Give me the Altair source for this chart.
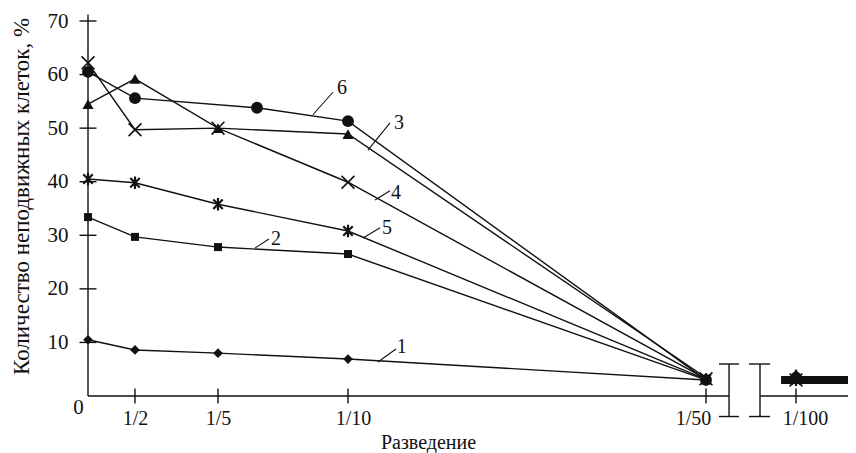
import altair as alt
import pandas as pd

# ---------------- data ----------------
dilution = [1, 2, 5, 10, 50]          # 1 = undiluted (origin), then 1/2, 1/5, 1/10, 1/50
dilution_6 = [1, 2, 6.5, 10, 50]      # curve 6 has its third point between 1/5 and 1/10
s1 = [10.5, 8.6, 8.0, 6.9, 3.0]
s2 = [33.4, 29.7, 27.8, 26.5, 3.0]
s3 = [54.5, 59.2, 50.0, 48.9, 3.4]
s4 = [62.2, 49.7, 50.0, 39.9, 3.2]
s5 = [40.5, 39.8, 35.8, 30.8, 3.1]
s6 = [60.5, 55.6, 53.8, 51.3, 3.0]
at_100 = [3.0, 3.0, 4.2, 3.0, 3.0, 3.4]   # values at 1/100, curves 1..6
bar_100 = [91.7, 132.0]                   # heavy line at 1/100 (dilution span)
bar_100_value = 3.0

x_ticks = [2, 5, 10, 50, 100]
x_tick_labels = ["1/2", "1/5", "1/10", "1/50", "1/100"]
y_ticks = [10, 20, 30, 40, 50, 60, 70]

series_names = ["1", "2", "3", "4", "5", "6"]
label_x = [16.0, 7.23, 15.7, 15.36, 14.36, 9.77]
label_y = [9.15, 29.3, 51.0, 37.9, 31.4, 57.5]
leader_x = [13.35, 6.42, 12.23, 13.02, 11.68, 8.65]
leader_x2 = [15.36, 6.96, 14.69, 14.69, 13.58, 9.42]
leader_y = [6.35, 27.6, 45.9, 36.6, 29.5, 52.5]
leader_y2 = [8.77, 29.3, 51.0, 38.3, 31.4, 56.7]

# ---------------- tables ----------------
xs = [dilution, dilution, dilution, dilution, dilution, dilution_6]
ys = [s1, s2, s3, s4, s5, s6]
rows = []
for name, xv, yv in zip(series_names, xs, ys):
    for a, b in zip(xv, yv):
        rows.append({"series": name, "x": a, "y": b})
lines_df = pd.DataFrame(rows)
pts_df = pd.concat(
    [lines_df, pd.DataFrame({"series": series_names, "x": [100] * 6, "y": at_100})],
    ignore_index=True,
)
labels_df = pd.DataFrame({"t": series_names, "x": label_x, "y": label_y,
                          "x0": leader_x, "x2": leader_x2, "y0": leader_y, "y2": leader_y2})
bar_df = pd.DataFrame({"x": [bar_100[0]], "x2": [bar_100[1]], "y": [bar_100_value]})

FONT = "Liberation Serif"
BLACK = "#111111"

xscale = alt.Scale(domain=[1, 2, 5, 10, 50, 100, 134],
                   range=[0, 47, 130, 260, 618, 708, 769], zero=False, nice=False)
yscale = alt.Scale(domain=[0, 70], nice=False, zero=False)

label_expr = " : ".join(
    [f"datum.value == {v} ? '{t}'" for v, t in zip(x_ticks, x_tick_labels)]
) + " : ''"

label_shift = {
    "condition": [
        {"test": "datum.value == 10", "value": 5},
        {"test": "datum.value == 50", "value": -13},
        {"test": "datum.value == 100", "value": 9},
    ],
    "value": 0,
}

xaxis = alt.Axis(values=x_ticks, labelExpr=label_expr, domain=False, ticks=False,
                 grid=False, tickSize=0, labelPadding=12, labelFont=FONT, labelFontSize=20,
                 labelColor=BLACK, labelOverlap=False, labelFlush=False, labelOffset=label_shift,
                 title="Разведение", titleFont=FONT, titleFontSize=20, titleFontWeight="normal",
                 titleColor=BLACK, titleX=340, titleY=46, titleBaseline="middle")
yaxis = alt.Axis(values=y_ticks, domain=False, ticks=False, grid=False, tickSize=0,
                 labelPadding=20, labelFont=FONT, labelFontSize=21, labelColor=BLACK,
                 labelOverlap=False, labelFlush=False,
                 title="Количество неподвижных клеток, %", titleFont=FONT, titleFontSize=23,
                 titleFontWeight="normal", titleColor=BLACK, titleX=-67, titleY=175,
                 titleBaseline="middle", titleAngle=270)

X = alt.X("x:Q", scale=xscale, axis=xaxis)
Y = alt.Y("y:Q", scale=yscale, axis=yaxis)

lines = alt.Chart(lines_df).mark_line(color=BLACK, strokeWidth=1.4, clip=False).encode(
    x=X, y=Y, detail="series:N", order="x:Q")

styles = {
    "1": dict(shape="diamond", filled=True, size=95),
    "2": dict(shape="square", filled=True, size=64),
    "3": dict(shape="triangle-up", filled=True, size=125),
    "4": dict(shape="M-1,-1L1,1M-1,1L1,-1", filled=False, size=165, strokeWidth=1.6),
    "5": dict(shape="M-1,-1L1,1M-1,1L1,-1M0,-1.3L0,1.3", filled=False, size=90, strokeWidth=2.2),
    "6": dict(shape="circle", filled=True, size=140),
}
point_layers = []
for name in series_names:
    st = dict(styles[name])
    point_layers.append(
        alt.Chart(pts_df).transform_filter(alt.datum.series == name)
        .mark_point(color=BLACK, opacity=1, clip=False, **st)
        .encode(x="x:Q", y="y:Q")
    )

heavy = alt.Chart(bar_df).mark_rule(color=BLACK, strokeWidth=8).encode(
    x="x:Q", x2="x2:Q", y="y:Q")

# axis lines (broken x axis)
axis_df = pd.DataFrame({"x": [1, 1, 80], "x2": [1, 62.8, 134], "y": [0, 0, 0], "y2": [71.2, 0, 0]})
axis_lines = alt.Chart(axis_df).mark_rule(color=BLACK, strokeWidth=1.4).encode(
    x="x:Q", x2="x2:Q", y="y:Q", y2="y2:Q")

# break symbols  I  I
brk_df = pd.DataFrame({
    "x":  [62.8, 57.2, 57.2, 80.0, 73.9, 73.9],
    "x2": [62.8, 68.3, 68.3, 80.0, 85.6, 85.6],
    "y":  [5.97, 5.97, -3.83, 5.97, 5.97, -3.83],
    "y2": [-3.83, 5.97, -3.83, -3.83, 5.97, -3.83],
})
breaks = alt.Chart(brk_df).mark_rule(color=BLACK, strokeWidth=1.4).encode(
    x="x:Q", x2="x2:Q", y="y:Q", y2="y2:Q")

ytick_df = pd.DataFrame({"x": [1] * len(y_ticks), "y": y_ticks})
yticks = alt.Chart(ytick_df).mark_tick(orient="horizontal", size=17, thickness=1.4,
                                       color=BLACK, opacity=1).encode(x="x:Q", y="y:Q")
xtick_df = pd.DataFrame({"x": x_ticks, "y": [0] * len(x_ticks)})
xticks = alt.Chart(xtick_df).mark_tick(orient="vertical", size=15, thickness=1.4,
                                       color=BLACK, opacity=1).encode(x="x:Q", y="y:Q")

zero_df = pd.DataFrame({"x": [0.80], "y": [-2.33], "t": ["0"]})
zero = alt.Chart(zero_df).mark_text(font=FONT, fontSize=21, color=BLACK, align="center",
                                    baseline="middle").encode(x="x:Q", y="y:Q", text="t:N")

leaders = alt.Chart(labels_df).mark_rule(color=BLACK, strokeWidth=1.1).encode(
    x="x0:Q", x2="x2:Q", y="y0:Q", y2="y2:Q")
num_labels = alt.Chart(labels_df).mark_text(font=FONT, fontSize=20, color=BLACK,
                                            align="center", baseline="middle").encode(
    x="x:Q", y="y:Q", text="t:N")

chart = alt.layer(
    lines, heavy, axis_lines, breaks, yticks, xticks, zero, leaders, num_labels, *point_layers
).properties(
    width=760, height=375,
    padding={"left": 80, "top": 13, "right": 0, "bottom": 57},
    autosize="none",
    background="white",
).configure_view(stroke=None)

chart.save("out.html", embed_options={"renderer": "svg", "actions": False})
